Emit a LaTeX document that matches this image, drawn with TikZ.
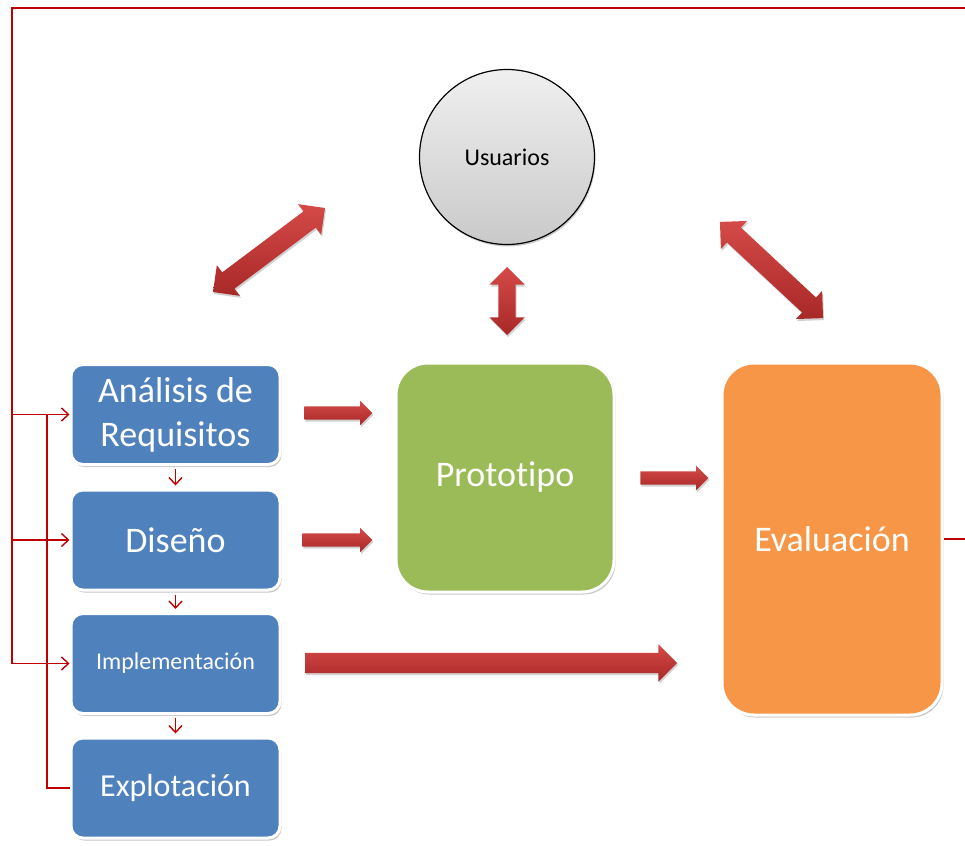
\documentclass[tikz,border=0pt]{standalone}
\usepackage{fontspec}
\setmainfont{Carlito}[Ligatures={NoCommon},RawFeature={-liga;-calt;-dlig}]
\usetikzlibrary{shapes.arrows,shadows,arrows.meta,shapes.geometric}
\definecolor{boxblue}{RGB}{79,129,189}
\definecolor{boxgreen}{RGB}{155,187,89}
\definecolor{boxorange}{RGB}{247,150,70}
\definecolor{fbred}{RGB}{192,0,0}
\definecolor{arrtop}{RGB}{212,74,72}
\definecolor{arrbot}{RGB}{168,40,40}
\begin{document}
\begin{tikzpicture}[x=1pt,y=-1pt,
  shade/.style={drop shadow={shadow xshift=1.5pt,shadow yshift=-2.5pt,opacity=0.22,fill=black}},
  proc/.style={shade,rounded corners=12pt,draw=white,line width=3pt,fill=boxblue,text=white,
    minimum width=209pt,minimum height=100pt,inner sep=0pt,align=center},
  bigbox/.style={shade,rounded corners=32pt,draw=white,line width=3pt,text=white,
    inner sep=0pt,align=center,font=\fontsize{36}{43}\selectfont},
  barrow/.style={single arrow,inner xsep=0pt,draw=none,top color=arrtop,bottom color=arrbot,
    drop shadow={shadow xshift=1pt,shadow yshift=-2pt,opacity=0.18,fill=black}},
  darrow/.style={double arrow,inner xsep=0pt,draw=none,top color=arrtop,bottom color=arrbot,
    drop shadow={shadow xshift=1pt,shadow yshift=-2pt,opacity=0.18,fill=black}},
  fb/.style={draw=fbred,line width=1.4pt},
  fbtip/.style={-{Straight Barb[length=7pt,width=13pt,line width=1.4pt]}},
]
\useasboundingbox (0,0) rectangle (965,845);

% process boxes
\node[proc,font=\fontsize{36}{44}\selectfont] (ana) at (175.5,414.5) {Análisis de\\Requisitos};
\node[proc,font=\fontsize{36}{43}\selectfont] (dis) at (175.5,540) {Diseño};
\node[proc,font=\fontsize{24}{28}\selectfont] (impl) at (175.5,663.5) {Implementación};
\node[proc,font=\fontsize{32}{38}\selectfont] (expl) at (175.5,788) {Explotación};

% big boxes
\node[bigbox,fill=boxgreen,minimum width=218pt,minimum height=229pt] (proto) at (505,477.5) {Prototipo};
\node[bigbox,fill=boxorange,minimum width=220pt,minimum height=352pt] (eval) at (832,539) {Evaluación};

% users
\node[circle,draw=black,line width=1.2pt,top color=gray!12,bottom color=gray!42,minimum size=175pt,
  inner sep=0pt,font=\fontsize{24}{28}\selectfont,
  drop shadow={shadow xshift=1pt,shadow yshift=-2pt,opacity=0.2,fill=black}] (usr) at (507,157) {Usuarios};

% block arrows
\node[darrow,inner ysep=10pt,minimum height=140pt,double arrow head extend=9pt,rotate=36.9] (a1) at (269,250) {};
\node[darrow,inner ysep=8.5pt,minimum height=68pt,double arrow head extend=9pt,rotate=90] (a2) at (507,301) {};
\node[darrow,inner ysep=10pt,minimum height=141pt,double arrow head extend=9pt,rotate=-43] (a3) at (771.5,270) {};
\node[barrow,inner ysep=6.5pt,minimum height=68pt,single arrow head extend=5.5pt] (b1) at (335,413) {};
\node[barrow,inner ysep=6.5pt,minimum height=70pt,single arrow head extend=5.5pt] (b2) at (334,540) {};
\node[barrow,inner ysep=6.5pt,minimum height=68pt,single arrow head extend=5.5pt] (b3) at (671,478) {};
\node[barrow,inner ysep=10pt,minimum height=372pt,single arrow head extend=8.5pt] (b4) at (486,663) {};

% small down arrows
\draw[fb,fbtip,shorten <=3pt,shorten >=3pt] (ana.south) -- (dis.north);
\draw[fb,fbtip,shorten <=3pt,shorten >=3pt] (dis.south) -- (impl.north);
\draw[fb,fbtip,shorten <=3pt,shorten >=3pt] (impl.south) -- (expl.north);

% feedback loop
\coordinate (tl) at (12,8);
\coordinate (tr) at (970,8);
\coordinate (ix) at (47,412);
\draw[fb,fbtip,line join=miter] (eval.east) -| (tr) -- (tl) |- (impl.west);
\draw[fb,fbtip] (tl |- ana.west) -- (ana.west);
\draw[fb,fbtip] (tl |- dis.west) -- (dis.west);
\draw[fb] (ix |- ana.west) |- (expl.west);
\end{tikzpicture}
\end{document}
